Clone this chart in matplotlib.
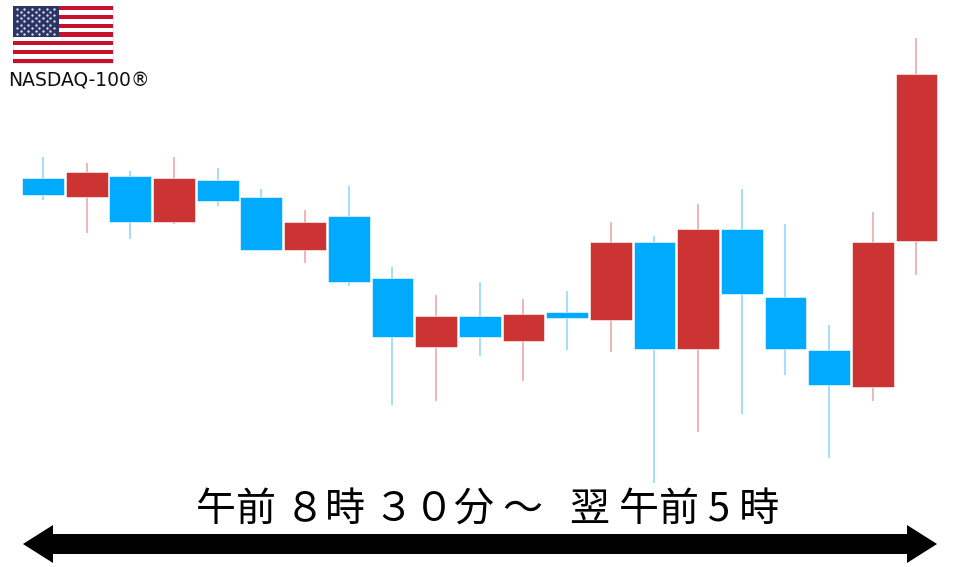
import numpy as np
import matplotlib
matplotlib.use('Agg')
import matplotlib.pyplot as plt
from matplotlib.patches import Polygon, Rectangle

plt.rcParams['font.family'] = ['Noto Sans CJK JP', 'DejaVu Sans']

# candle values (arbitrary price units, no axis shown)
opens = [389, 370, 391, 345, 387, 370, 317, 351, 289, 220, 251, 226, 255, 247, 325, 218, 338, 270, 217, 180, 326]
closes = [372, 395, 345, 389, 366, 317, 345, 285, 230, 251, 230, 253, 249, 325, 218, 338, 273, 218, 182, 325, 493]
highs = [410, 404, 396, 410, 399, 378, 357, 381, 300, 272, 285, 268, 276, 345, 331, 363, 378, 343, 242, 355, 529]
lows = [367, 334, 328, 343, 361, 317, 304, 281, 162, 166, 211, 186, 217, 215, 84, 135, 153, 192, 109, 166, 292]

title_text = '午前 ８時 ３０分 ～   翌 午前 5 時'
index_label = 'NASDAQ-100®'

BLUE = '#00AAFF'
RED = '#CC3333'
BLUE_WICK = '#8AD6FF'
RED_WICK = '#E9A3A3'

fig = plt.figure(figsize=(9.6, 5.67), dpi=100)

# candles
ax = fig.add_axes([0, 0, 1, 1])
x = np.arange(len(opens))
step = 43.67
ax.set_xlim(-43 / step, (960 - 43) / step)
ax.set_ylim(0, 567)
ax.axis('off')

opens = np.array(opens)
closes = np.array(closes)
colors = [RED if c > o else BLUE for o, c in zip(opens, closes)]
wick_colors = [RED_WICK if c > o else BLUE_WICK for o, c in zip(opens, closes)]

ax.vlines(x, lows, highs, colors=wick_colors, linewidth=1.1, zorder=1)
ax.bar(x, np.abs(closes - opens), bottom=np.minimum(opens, closes), width=0.955,
       color=colors, edgecolor='white', linewidth=0.4, zorder=2)

# overlay in pixel coords for the flag, arrow and text
over = fig.add_axes([0, 0, 1, 1])
over.set_xlim(0, 960)
over.set_ylim(567, 0)
over.axis('off')
over.patch.set_alpha(0)

# flag
over.add_patch(Rectangle((13, 6), 100, 57, fc='white', ec='#dddddd', lw=0.5))
for i in range(0, 13, 2):
    over.add_patch(Rectangle((13, 6 + i * 57 / 13), 100, 57 / 13, fc='#C8102E', ec='none'))
over.add_patch(Rectangle((13, 6), 46, 30.7, fc='#2B3566', ec='none'))
for row in range(9):
    n = 6 if row % 2 == 0 else 5
    off = 0 if row % 2 == 0 else 3.7
    for k in range(n):
        over.plot(17 + off + k * 7.4, 9 + row * 3.1, marker='o', ms=1.7, color='#dfe3ee', mew=0)

over.text(8, 81, index_label, fontsize=13.5, color='#111111', va='center', ha='left',
          family='DejaVu Sans')

# double arrow along the bottom
arrow = [(23, 544), (53, 525), (53, 534), (907, 534), (907, 525), (937, 544),
         (907, 563), (907, 554), (53, 554), (53, 563)]
over.add_patch(Polygon(arrow, closed=True, fc='black', ec='none'))

over.text(196, 511, title_text, fontsize=28.8, color='black', ha='left', va='center')

fig.savefig('out.png', dpi=100)
